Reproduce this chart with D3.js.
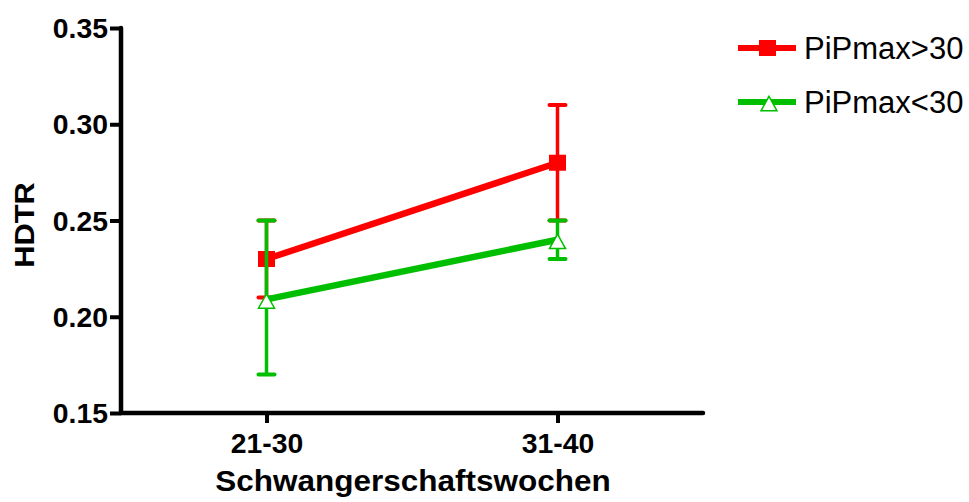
<!DOCTYPE html>
<html>
<head>
<meta charset="utf-8">
<script src="https://cdn.jsdelivr.net/npm/d3@7"></script>
<style>
  body { margin: 0; background: #fff; }
  svg text { font-family: Arial, "Liberation Sans", sans-serif; fill: #000; }
</style>
</head>
<body>
<div id="chart"></div>
<script>
// categories on the x axis
const weeks = ["21-30", "31-40"];
const yTicks = [0.15, 0.20, 0.25, 0.30, 0.35];

// series: mean, lower / upper end of the error bar
const highMean = [0.23, 0.28];
const highLow = [0.21, 0.25];
const highHigh = [0.25, 0.31];

const lowMean = [0.209, 0.24];
const lowLow = [0.17, 0.23];
const lowHigh = [0.25, 0.25];

const seriesNames = ["PiPmax>30", "PiPmax<30"];

const width = 969, height = 502;
const STRETCH = 1.05; // the export draws fonts a bit wide

const svg = d3.select("#chart").append("svg")
    .attr("width", width)
    .attr("height", height);

const x = d3.scalePoint()
    .domain(weeks)
    .range([121, 703])
    .padding(0.5);

const y = d3.scaleLinear()
    .domain([0.15, 0.35])
    .range([413, 28]);

// open triangle, sitting slightly under the value like in the original
const triangle = {
    draw(ctx, size) {
        const w = Math.sqrt(size) / 2;
        ctx.moveTo(0, -w * 0.7);
        ctx.lineTo(w, w * 1.1);
        ctx.lineTo(-w, w * 1.1);
        ctx.closePath();
    }
};

const series = [
    { name: seriesNames[0], color: "#ff0000", mean: highMean, lo: highLow, hi: highHigh, marker: "square" },
    { name: seriesNames[1], color: "#00bf00", mean: lowMean, lo: lowLow, hi: lowHigh, marker: "triangle" }
];

// axes
const yAxis = svg.append("g")
    .attr("transform", "translate(121,0)")
    .call(d3.axisLeft(y).tickValues(yTicks).tickFormat(d3.format(".2f")).tickSize(11).tickPadding(12));

const xAxis = svg.append("g")
    .attr("transform", "translate(0,413)")
    .call(d3.axisBottom(x).tickSize(10).tickSizeOuter(0));

[yAxis, xAxis].forEach(ax => {
    ax.select(".domain").attr("stroke", "#000").attr("stroke-width", 4.5).attr("stroke-linecap", "round");
    ax.selectAll(".tick line").attr("stroke", "#000").attr("stroke-width", 4);
    ax.selectAll(".tick text")
        .attr("font-size", 27)
        .attr("font-weight", "bold")
        .attr("font-family", "Arial, 'Liberation Sans', sans-serif");
});
// plain axis lines, no outer ticks
yAxis.select(".domain").attr("d", `M0,${y(0.35)}V${y(0.15)}`);
xAxis.select(".domain").attr("d", `M121,0H703`);

yAxis.selectAll(".tick text")
    .attr("x", -13 / STRETCH)
    .attr("dy", "0.36em")
    .attr("transform", `scale(${STRETCH},1)`);
xAxis.selectAll(".tick text")
    .attr("y", 40)
    .attr("dy", 0)
    .attr("transform", `scale(${STRETCH},1)`);

// axis titles
svg.append("text")
    .attr("transform", `translate(413,491) scale(${STRETCH},1)`)
    .attr("text-anchor", "middle")
    .attr("font-size", 30)
    .attr("font-weight", "bold")
    .text("Schwangerschaftswochen");

svg.append("text")
    .attr("transform", `translate(34,225) rotate(-90) scale(1.1,1)`)
    .attr("text-anchor", "middle")
    .attr("font-size", 28)
    .attr("font-weight", "bold")
    .text("HDTR");

// data
const line = d3.line().x((d, i) => x(weeks[i])).y(d => y(d));

series.forEach(s => {
    const g = svg.append("g");

    weeks.forEach((w, i) => {
        g.append("line")
            .attr("x1", x(w)).attr("x2", x(w))
            .attr("y1", y(s.lo[i])).attr("y2", y(s.hi[i]))
            .attr("stroke", s.color).attr("stroke-width", 3.5);
        [s.lo[i], s.hi[i]].forEach(v => {
            g.append("line")
                .attr("x1", x(w) - 8).attr("x2", x(w) + 8)
                .attr("y1", y(v)).attr("y2", y(v))
                .attr("stroke", s.color).attr("stroke-width", 4)
                .attr("stroke-linecap", "round");
        });
    });

    g.append("path")
        .attr("d", line(s.mean))
        .attr("fill", "none")
        .attr("stroke", s.color)
        .attr("stroke-width", 6.5);

    if (s.marker === "square") {
        g.selectAll("rect").data(s.mean).join("rect")
            .attr("x", (d, i) => x(weeks[i]) - 8.5)
            .attr("y", d => y(d) - 8)
            .attr("width", 17).attr("height", 16)
            .attr("fill", s.color);
    } else {
        g.selectAll("path.pt").data(s.mean).join("path")
            .attr("class", "pt")
            .attr("d", d3.symbol().type(triangle).size(256))
            .attr("transform", (d, i) => `translate(${x(weeks[i])},${y(d)})`)
            .attr("fill", "#fff")
            .attr("stroke", s.color)
            .attr("stroke-width", 1.5);
    }
});

// legend
const legend = svg.append("g");
series.forEach((s, i) => {
    const ly = 48 + i * 54;
    legend.append("line")
        .attr("x1", 738).attr("x2", 796)
        .attr("y1", ly).attr("y2", ly)
        .attr("stroke", s.color).attr("stroke-width", 6);
    if (s.marker === "square") {
        legend.append("rect")
            .attr("x", 759).attr("y", ly - 8)
            .attr("width", 17).attr("height", 16)
            .attr("fill", s.color);
    } else {
        legend.append("path")
            .attr("d", d3.symbol().type(triangle).size(256))
            .attr("transform", `translate(769,${ly})`)
            .attr("fill", "#fff")
            .attr("stroke", s.color)
            .attr("stroke-width", 1.5);
    }
    legend.append("text")
        .attr("x", 804)
        .attr("y", ly)
        .attr("dy", "0.36em")
        .attr("font-size", 31)
        .text(s.name);
});
</script>
</body>
</html>
